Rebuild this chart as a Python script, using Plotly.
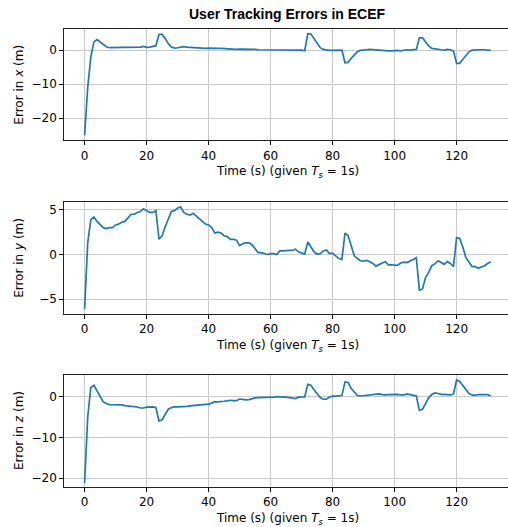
import plotly.graph_objects as go

# ---- data ----
time_s = list(range(132))

err_x = [
    -25.0, -11.0, -2.0, 2.4, 3.1, 2.4, 1.6, 1.0, 0.7, 0.7,
    0.7, 0.7, 0.7, 0.7, 0.75, 0.8, 0.8, 0.85, 0.9, 1.1,
    0.8, 0.9, 1.0, 1.3, 4.6, 4.6, 3.4, 1.9, 0.9, 0.6,
    0.7, 0.9, 1.0, 0.9, 0.8, 0.7, 0.6, 0.6, 0.6, 0.5,
    0.6, 0.5, 0.5, 0.5, 0.5, 0.4, 0.4, 0.3, 0.3, 0.2,
    0.3, 0.3, 0.4, 0.3, 0.2, 0.2, 0.1, 0.1, 0.0, 0.0,
    0.0, -0.1, 0.0, 0.1, -0.1, 0.0, 0.0, -0.1, 0.1, 0.1,
    0.0, -0.2, 4.8, 4.7, 3.4, 1.9, 0.7, 0.2, 0.0, -0.1,
    -0.1, 0.0, 0.0, 0.0, -3.7, -3.6, -2.4, -1.3, -0.5, -0.1,
    0.1, 0.1, 0.2, 0.1, 0.2, 0.0, -0.1, -0.1, -0.2, -0.2,
    -0.1, -0.1, -0.2, 0.0, 0.1, 0.0, 0.0, 0.2, 3.6, 3.6,
    2.4, 1.2, 0.5, 0.3, 0.1, 0.1, 0.0, 0.2, 0.1, -0.3,
    -3.9, -3.9, -2.7, -1.5, -0.5, 0.0, 0.1, 0.1, 0.1, 0.1,
    0.1, -0.1,
]

err_y = [
    -6.1, 1.3, 3.9, 4.2, 3.7, 3.3, 3.0, 2.9, 3.0, 3.0,
    3.3, 3.4, 3.6, 3.7, 4.1, 4.5, 4.5, 4.7, 4.8, 5.1,
    4.9, 4.7, 4.7, 4.9, 1.7, 2.1, 3.1, 3.9, 4.8, 4.9,
    5.2, 5.3, 4.7, 4.5, 4.4, 4.6, 4.3, 4.1, 3.8, 3.4,
    3.3, 3.0, 2.4, 2.5, 2.4, 2.1, 2.0, 1.7, 1.7, 1.6,
    1.0, 1.2, 1.3, 1.3, 1.1, 0.7, 0.2, 0.2, 0.1, 0.0,
    0.1, 0.1, 0.0, 0.4, 0.4, 0.45, 0.45, 0.45, 0.6, 0.3,
    0.2, 0.05, 1.4, 0.85, 0.3, 0.05, 0.1, 0.4, 0.5, 0.1,
    0.15, -0.15, -0.45, -0.55, 2.4, 2.1, 1.0, -0.15, -0.45, -0.7,
    -0.75, -0.65, -0.8, -1.0, -1.3, -1.1, -0.95, -0.8, -1.15, -1.15,
    -1.2, -1.2, -0.95, -0.85, -0.9, -0.75, -0.55, -0.35, -4.0, -3.85,
    -2.55, -2.0, -1.25, -1.05, -0.7, -0.9, -1.1, -0.8, -1.0, -1.35,
    1.9, 1.8, 0.85, -0.35, -0.8, -1.35, -1.35, -1.55, -1.4, -1.25,
    -1.0, -0.8,
]

err_z = [
    -21.2, -5.0, 2.2, 2.8, 1.4, -0.1, -1.3, -1.7, -2.0, -2.0,
    -2.0, -2.0, -2.05, -2.2, -2.3, -2.3, -2.55, -2.55, -2.8, -2.8,
    -2.6, -2.55, -2.55, -2.7, -6.0, -5.7, -4.2, -3.1, -2.7, -2.5,
    -2.55, -2.55, -2.5, -2.4, -2.3, -2.2, -2.15, -2.05, -2.05, -1.9,
    -1.9, -1.55, -1.25, -1.3, -1.15, -1.15, -1.05, -0.9, -1.0, -1.0,
    -0.6, -0.75, -0.8, -0.75, -0.5, -0.3, -0.25, -0.25, -0.1, -0.15,
    -0.1, -0.15, 0.0, -0.15, -0.15, -0.15, -0.25, -0.4, -0.5, -0.15,
    -0.15, -0.1, 3.0, 2.8, 1.7, 0.6, -0.25, -0.65, -0.65, -0.1,
    0.1, 0.1, 0.15, 0.25, 3.6, 3.45, 2.0, 1.0, 0.25, 0.15,
    0.25, 0.3, 0.3, 0.4, 0.5, 0.65, 0.5, 0.4, 0.5, 0.55,
    0.55, 0.55, 0.4, 0.4, 0.65, 0.5, 0.25, 0.15, -3.4, -3.1,
    -1.75, -0.25, 0.5, 0.9, 0.75, 0.55, 0.55, 0.4, 0.4, 0.65,
    4.1, 3.7, 2.65, 1.55, 0.75, 0.4, 0.3, 0.5, 0.5, 0.5,
    0.5, 0.15,
]

x_ticks = [0, 20, 40, 60, 80, 100, 120]
y_ticks = [[-20, -10, 0], [-5, 0, 5], [-20, -10, 0]]
y_ranges = [[-26.5, 6.2], [-6.65, 5.9], [-22.2, 5.3]]
y_labels = ["Error in <i>x</i> (m)", "Error in <i>y</i> (m)", "Error in <i>z</i> (m)"]
x_label = "Time (s) (given <i>T</i><sub><i>s</i></sub> = 1s)"
title = "User Tracking Errors in ECEF"

# ---- layout geometry (pixels) ----
W, H = 508, 527
left_px = 64.3
px_per_unit = 3.1
x_range = [-6.55, -6.55 + (W - left_px) / px_per_unit]
panels_px = [(29.0, 140.3), (201.7, 314.0), (375.0, 487.0)]  # (top, bottom)

fig = go.Figure()
font_main = "DejaVu Sans"
line_col = "#1f77b4"

annotations = []
for i, (series, (top, bot)) in enumerate(zip([err_x, err_y, err_z], panels_px)):
    n = "" if i == 0 else str(i + 1)
    fig.add_trace(go.Scatter(
        x=time_s, y=series, mode="lines",
        line=dict(color=line_col, width=1.7),
        xaxis="x" + n, yaxis="y" + n, showlegend=False,
    ))
    dom = [1 - bot / H, 1 - top / H]
    fig.layout["xaxis" + n] = dict(
        domain=[left_px / W, 1.0], range=x_range, anchor="y" + n,
        tickvals=x_ticks, ticks="outside", ticklen=4, tickcolor="#000",
        showline=True, linecolor="#222", linewidth=1, mirror=True,
        showgrid=True, gridcolor="#c8c8c8", gridwidth=1, zeroline=False,
        tickfont=dict(family=font_main, size=12, color="#000"),
    )
    fig.layout["yaxis" + n] = dict(
        domain=dom, range=y_ranges[i], anchor="x" + n,
        tickvals=y_ticks[i], ticks="outside", ticklen=4, tickcolor="#000",
        showline=True, linecolor="#222", linewidth=1, mirror=False,
        showgrid=True, gridcolor="#c8c8c8", gridwidth=1, zeroline=False,
        tickfont=dict(family=font_main, size=12, color="#000"),
    )
    annotations.append(dict(
        text=x_label, xref="paper", yref="paper",
        x=287.6 / W, y=1 - (bot + 31.7) / H, xanchor="center", yanchor="middle",
        showarrow=False, font=dict(family=font_main, size=12, color="#000"),
    ))
    annotations.append(dict(
        text=y_labels[i], xref="paper", yref="paper", textangle=-90,
        x=19 / W, y=1 - (top + bot) / 2 / H, xanchor="center", yanchor="middle",
        showarrow=False, font=dict(family=font_main, size=12, color="#000"),
    ))

annotations.append(dict(
    text="<b>" + title + "</b>", xref="paper", yref="paper",
    x=287.6 / W, y=1 - 13.5 / H, xanchor="center", yanchor="middle",
    showarrow=False, font=dict(family="Liberation Sans", size=14, color="#000"),
))

fig.update_layout(
    width=W, height=H,
    margin=dict(l=0, r=0, t=0, b=0),
    paper_bgcolor="white", plot_bgcolor="white",
    annotations=annotations,
)

fig.write_html(
    "out.html",
    config={"displayModeBar": False},
    post_script="document.body.style.margin='0';document.body.style.overflow='hidden';",
)
